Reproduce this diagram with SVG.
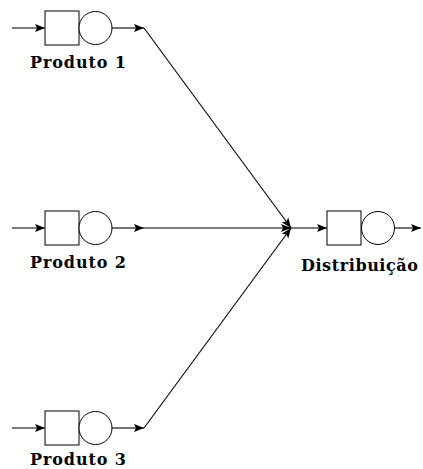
<svg xmlns="http://www.w3.org/2000/svg" width="423" height="469" viewBox="0 0 423 469">
  <style>
    .ln { fill: none; stroke: #000; stroke-width: 1.1; }
    .box { fill: #fff; stroke: #000; stroke-width: 1; }
    .lbl { font-family: "DejaVu Serif", "Liberation Serif", serif; font-weight: bold; font-size: 16px; text-anchor: middle; fill: #000; }
  </style>
  <defs>
    <marker id="ah" viewBox="0 0 10 8" refX="10" refY="4" markerWidth="10" markerHeight="8" markerUnits="userSpaceOnUse" orient="auto">
      <path d="M0,0 L10,4 L0,8 L2,4 Z" fill="#000"/>
    </marker>
  </defs>

  <g id="connectors">
    <!-- inputs into each queue -->
    <line class="ln" x1="12" y1="28" x2="45" y2="28" marker-end="url(#ah)"/>
    <line class="ln" x1="12" y1="228" x2="45" y2="228" marker-end="url(#ah)"/>
    <line class="ln" x1="12" y1="428" x2="45" y2="428" marker-end="url(#ah)"/>
    <!-- outputs of each product server -->
    <line class="ln" x1="112" y1="28" x2="144" y2="28" marker-end="url(#ah)"/>
    <line class="ln" x1="112" y1="228" x2="144" y2="228" marker-end="url(#ah)"/>
    <line class="ln" x1="112" y1="428" x2="144" y2="428" marker-end="url(#ah)"/>
    <!-- merge into distribution -->
    <line class="ln" x1="144" y1="28" x2="291" y2="228" marker-end="url(#ah)"/>
    <line class="ln" x1="144" y1="228" x2="291" y2="228" marker-end="url(#ah)"/>
    <line class="ln" x1="144" y1="428" x2="291" y2="228" marker-end="url(#ah)"/>
    <line class="ln" x1="291" y1="228" x2="327" y2="228" marker-end="url(#ah)"/>
    <line class="ln" x1="395" y1="228" x2="421" y2="228" marker-end="url(#ah)"/>
  </g>

  <g id="produto1">
    <rect class="box" x="45" y="11" width="34" height="34"/>
    <circle class="box" cx="95.5" cy="28" r="16.5"/>
    <text class="lbl" x="78" y="68" textLength="96" lengthAdjust="spacing">Produto 1</text>
  </g>

  <g id="produto2">
    <rect class="box" x="45" y="211" width="34" height="34"/>
    <circle class="box" cx="95.5" cy="228" r="16.5"/>
    <text class="lbl" x="78" y="268" textLength="96" lengthAdjust="spacing">Produto 2</text>
  </g>

  <g id="produto3">
    <rect class="box" x="45" y="411" width="34" height="34"/>
    <circle class="box" cx="95.5" cy="428" r="16.5"/>
    <text class="lbl" x="78" y="465" textLength="96" lengthAdjust="spacing">Produto 3</text>
  </g>

  <g id="distribuicao">
    <rect class="box" x="327" y="211" width="34" height="34"/>
    <circle class="box" cx="378" cy="228" r="16.5"/>
    <text class="lbl" x="359.5" y="271" textLength="117" lengthAdjust="spacing">Distribuição</text>
  </g>
</svg>
